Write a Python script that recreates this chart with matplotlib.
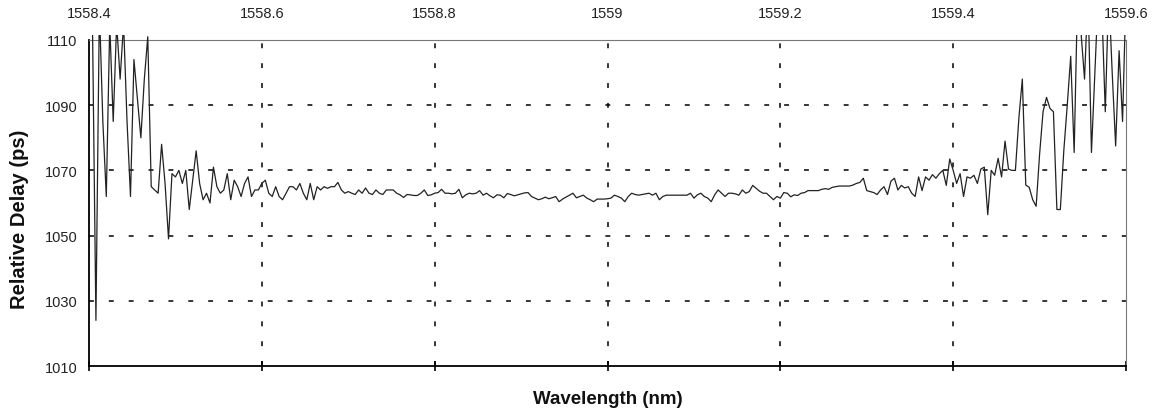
import numpy as np
import matplotlib
matplotlib.use('Agg')
import matplotlib.pyplot as plt
from matplotlib.transforms import Bbox, TransformedBbox

plt.rcParams['font.family'] = ['Liberation Sans', 'DejaVu Sans']

# measurement grid: 1558.4 .. 1559.6 nm, 0.004 nm step
wl_start = 1558.4
wl_stop = 1559.6
n_points = 301

# relative delay (ps)
delay_left = [
    1120, 1115, 1024, 1120, 1085, 1062, 1115, 1085, 1115, 1098,
    1115, 1085, 1062, 1104, 1092, 1080, 1098, 1111, 1065, 1064,
    1063, 1078, 1066, 1049, 1069, 1068, 1070, 1066, 1070, 1058,
    1067, 1076, 1066, 1061, 1063, 1060, 1071, 1065, 1063, 1064,
    1069, 1061, 1067, 1065, 1062, 1066, 1068, 1062, 1064, 1064,
]
delay_mid1 = [
    1066, 1067, 1063, 1062, 1065, 1062, 1061, 1063, 1065, 1065,
    1064, 1066, 1063, 1061, 1066, 1061, 1065, 1064, 1065, 1064.5,
    1065, 1065, 1066.3, 1064, 1063, 1063.5, 1063, 1062.6, 1064, 1063,
    1064.6, 1063, 1062.6, 1064, 1063, 1062.6, 1064, 1064, 1064, 1063,
    1062.5, 1061.7, 1062.6, 1062.5, 1062.3, 1062.3, 1063, 1064, 1062.3, 1062.5,
]
delay_mid2 = [
    1063, 1063.2, 1064.2, 1063, 1063, 1062.8, 1063, 1064.2, 1061.6, 1062.5,
    1063, 1062.8, 1063, 1063.8, 1062.4, 1063, 1062.2, 1061.6, 1062.5, 1062.4,
    1061.6, 1062.9, 1062.6, 1062.2, 1062.5, 1062.8, 1063.1, 1063.2, 1062, 1061.5,
    1061, 1061.3, 1061.8, 1061.3, 1061.6, 1062, 1060.4, 1061.2, 1061.8, 1062.4,
    1063, 1061.6, 1062, 1062.4, 1061.5, 1061, 1060.4, 1061.2, 1061.2, 1061.2,
]
delay_mid3 = [
    1061.3, 1061.5, 1062.4, 1062, 1061.5, 1060.4, 1062, 1063, 1062.6, 1062.4,
    1062.6, 1062.8, 1063, 1062.4, 1063, 1061, 1062, 1062.4, 1062.4, 1062.4,
    1062.4, 1062.4, 1062.4, 1062.4, 1063, 1061.5, 1062.5, 1063, 1062, 1061.5,
    1060.4, 1062.5, 1064, 1063, 1062, 1063, 1063, 1062.8, 1062.4, 1064,
    1063, 1063.5, 1065.4, 1064.5, 1063.6, 1063, 1063, 1062, 1061, 1062,
]
delay_mid4 = [
    1061.5, 1063.2, 1063, 1061.9, 1062.5, 1062.3, 1063, 1063.2, 1063.8, 1063.8,
    1063.8, 1063.8, 1064.2, 1064.4, 1064.2, 1064.8, 1065, 1065.2, 1065.2, 1065.2,
    1065.2, 1065.5, 1066, 1066.3, 1067.6, 1063.8, 1063.5, 1063.2, 1062.6, 1064,
    1065, 1062.6, 1066.7, 1067.6, 1064, 1065.4, 1064.6, 1065, 1063, 1062,
    1068, 1063.8, 1068, 1067, 1068.7, 1067.6, 1069, 1070, 1065.4, 1073.5,
]
delay_right = [
    1070, 1066, 1069, 1062, 1068, 1067.6, 1068.5, 1066, 1070.4, 1071,
    1056.4, 1070, 1068.5, 1073.7, 1068, 1079, 1070.4, 1070, 1070, 1086,
    1098, 1065.5, 1064.8, 1061, 1059, 1075, 1088, 1092.4, 1089, 1088,
    1058, 1058, 1076, 1090, 1105, 1075.5, 1125, 1112, 1098, 1125,
    1075.5, 1100, 1125, 1120, 1088, 1125, 1100, 1077.5, 1106.7, 1085,
    1125,
]

wavelength = np.linspace(wl_start, wl_stop, n_points)
delay = delay_left + delay_mid1 + delay_mid2 + delay_mid3 + delay_mid4 + delay_right

x_ticks = [1558.4, 1558.6, 1558.8, 1559.0, 1559.2, 1559.4, 1559.6]
x_tick_labels = ['1558.4', '1558.6', '1558.8', '1559', '1559.2', '1559.4', '1559.6']
y_ticks = [1010, 1030, 1050, 1070, 1090, 1110]

fig = plt.figure(figsize=(11.53, 4.14), dpi=100)
ax = fig.add_axes([0.0772, 0.1135, 0.8994, 0.7875])

line, = ax.plot(wavelength, delay, color='#222222', lw=0.9, zorder=3)
# excel lets the trace run a hair past the top border
line.set_clip_box(TransformedBbox(Bbox([[0, 0], [1, 1.016]]), ax.transAxes))

ax.set_xlim(wl_start, wl_stop)
ax.set_ylim(1010, 1110)
ax.set_xticks(x_ticks)
ax.set_xticklabels(x_tick_labels)
ax.set_yticks(y_ticks)

ax.grid(True, color='black', lw=1.1, linestyle=(0, (3.2, 9.8)))
# no gridlines on the frame itself
for gl in [ax.xaxis.get_gridlines()[0], ax.xaxis.get_gridlines()[-1],
           ax.yaxis.get_gridlines()[0], ax.yaxis.get_gridlines()[-1]]:
    gl.set_visible(False)

ax.xaxis.set_tick_params(which='major', top=False, labeltop=True, bottom=True, labelbottom=False,
                         direction='inout', length=7, width=1.2, color='black', pad=11,
                         labelsize=10.5, labelcolor='#222222')
ax.yaxis.set_tick_params(length=0, pad=8.5, labelsize=10.5, labelcolor='#222222')

for side in ['left', 'bottom']:
    ax.spines[side].set_color('black')
    ax.spines[side].set_linewidth(1.3)
for side in ['top', 'right']:
    ax.spines[side].set_color('#777777')
    ax.spines[side].set_linewidth(0.8)

fig.text(0.527, 0.034, 'Wavelength (nm)', ha='center', va='center',
         fontsize=13.5, fontweight='bold', color='#111111')
fig.text(0.017, 0.47, 'Relative Delay (ps)', ha='center', va='center',
         rotation=90, fontsize=14.5, fontweight='bold', color='#111111')

fig.savefig('out.png', dpi=100)
